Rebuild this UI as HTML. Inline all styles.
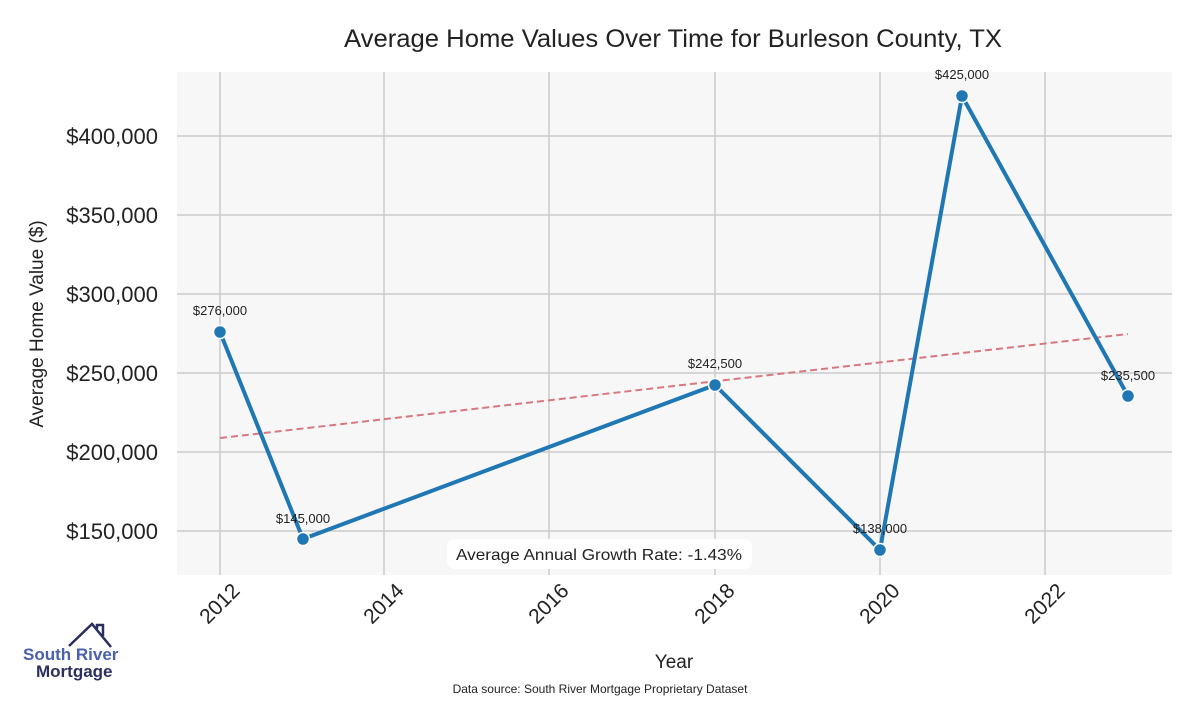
<!DOCTYPE html>
<html><head><meta charset="utf-8"><style>
body{margin:0;background:#fff;}
svg text{font-family:"Liberation Sans",sans-serif;}
</style></head><body>
<svg width="1200" height="700" xmlns="http://www.w3.org/2000/svg">
<rect x="177" y="72" width="995" height="503" fill="#f7f7f7"/>
<g stroke="#cccccc" stroke-width="1.5">
<line x1="220" y1="72" x2="220" y2="575"/><line x1="384" y1="72" x2="384" y2="575"/>
<line x1="549" y1="72" x2="549" y2="575"/><line x1="715" y1="72" x2="715" y2="575"/>
<line x1="880" y1="72" x2="880" y2="575"/><line x1="1045" y1="72" x2="1045" y2="575"/>
<line x1="177" y1="136" x2="1172" y2="136"/><line x1="177" y1="215" x2="1172" y2="215"/>
<line x1="177" y1="294" x2="1172" y2="294"/><line x1="177" y1="373" x2="1172" y2="373"/>
<line x1="177" y1="452" x2="1172" y2="452"/><line x1="177" y1="531" x2="1172" y2="531"/>
</g>
<text x="673" y="47" font-size="25" text-anchor="middle" fill="#222" textLength="658" lengthAdjust="spacingAndGlyphs">Average Home Values Over Time for Burleson County, TX</text>
<g font-size="22" fill="#222" text-anchor="end">
<text x="158" y="144">$400,000</text><text x="158" y="223">$350,000</text>
<text x="158" y="302">$300,000</text><text x="158" y="381">$250,000</text>
<text x="158" y="460">$200,000</text><text x="158" y="539">$150,000</text>
</g>
<text transform="translate(43,324) rotate(-90)" font-size="19" fill="#222" text-anchor="middle">Average Home Value ($)</text>
<g font-size="21" fill="#222" text-anchor="end">
<text transform="translate(241,592) rotate(-45)">2012</text>
<text transform="translate(405,592) rotate(-45)">2014</text>
<text transform="translate(570,592) rotate(-45)">2016</text>
<text transform="translate(736,592) rotate(-45)">2018</text>
<text transform="translate(901,592) rotate(-45)">2020</text>
<text transform="translate(1066,592) rotate(-45)">2022</text>
</g>
<text x="674" y="668" font-size="19" fill="#222" text-anchor="middle">Year</text>
<text x="600" y="693" font-size="12" fill="#222" text-anchor="middle">Data source: South River Mortgage Proprietary Dataset</text>
<line x1="220" y1="438" x2="1128" y2="334" stroke="#d9777f" stroke-width="2" stroke-dasharray="7,4"/>
<polyline points="220,332 303,539 715,385 880,550 962,96 1128,396" fill="none" stroke="#1f77b4" stroke-width="4" stroke-linejoin="round"/>
<g fill="#1f77b4" stroke="#fff" stroke-width="1.5">
<circle cx="220" cy="332" r="6.5"/><circle cx="303" cy="539" r="6.5"/><circle cx="715" cy="385" r="6.5"/>
<circle cx="880" cy="550" r="6.5"/><circle cx="962" cy="96" r="6.5"/><circle cx="1128" cy="396" r="6.5"/>
</g>
<g font-size="13" fill="#222" text-anchor="middle">
<text x="220" y="315">$276,000</text><text x="303" y="523">$145,000</text><text x="715" y="368">$242,500</text>
<text x="880" y="533">$138,000</text><text x="962" y="79">$425,000</text><text x="1128" y="380">$235,500</text>
</g>
<rect x="447" y="539" width="305" height="30" rx="8" fill="#fff"/>
<text x="599" y="560" font-size="16" fill="#222" text-anchor="middle" textLength="286" lengthAdjust="spacingAndGlyphs">Average Annual Growth Rate: -1.43%</text>
<polyline points="69,646 92,624 111,647" fill="none" stroke="#2a2f5e" stroke-width="2.5"/>
<polyline points="97,629 97,625 103,625 103,636" fill="none" stroke="#2a2f5e" stroke-width="2.5"/>
<text x="23" y="660" font-size="17" font-weight="bold" fill="#4a5fae">South River</text>
<text x="36" y="677" font-size="17" font-weight="bold" fill="#2a2f5e">Mortgage</text>
</svg>
</body></html>
